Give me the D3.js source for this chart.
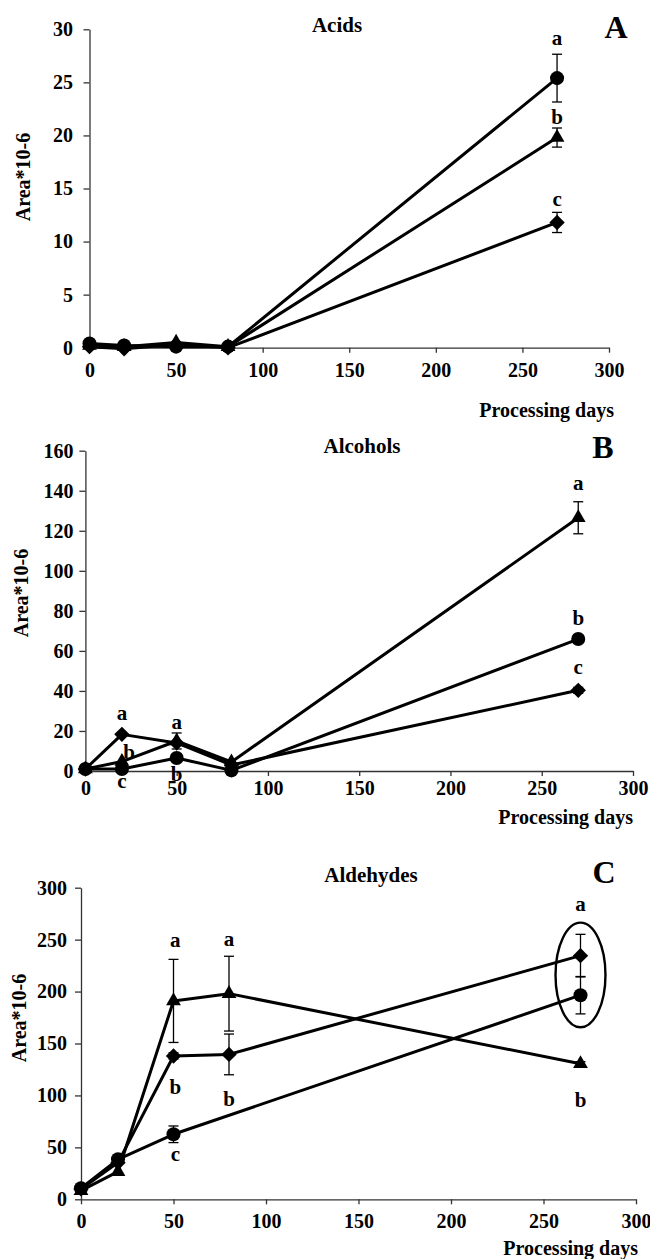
<!DOCTYPE html>
<html lang="en">
<head>
<meta charset="utf-8">
<title>Acids, alcohols and aldehydes over processing days</title>
<script src="https://cdn.jsdelivr.net/npm/d3@7"></script>
<style>
  body { margin: 0; background: #fff; }
  svg { font-family: "Liberation Serif", "Times New Roman", serif; font-weight: bold; }
</style>
</head>
<body>
<script>
// sampling days and axis ticks
var days = [0, 20, 50, 80, 270];
var xTicks = [0, 50, 100, 150, 200, 250, 300];

// A - acids
var acidsCircle = [0.4, 0.2, 0.1, 0.1, 25.4];
var acidsCircleErr = [0, 0, 0, 0, 2.25];
var acidsTriangle = [0.2, 0.1, 0.5, 0.1, 19.8];
var acidsTriangleErr = [0, 0, 0, 0, 0.9];
var acidsDiamond = [0.1, -0.1, 0.3, 0.0, 11.8];
var acidsDiamondErr = [0, 0, 0, 0, 0.95];
var acidsLetters = [[270, 29.2, "a"], [270, 21.8, "b"], [270, 14.0, "c"]];

// B - alcohols
var alcCircle = [1, 1, 6.5, 0.3, 65.9];
var alcCircleErr = [0, 0, 0, 0, 1.5];
var alcTriangle = [1, 4.7, 15, 4.5, 126.5];
var alcTriangleErr = [0, 0, 4, 0, 8];
var alcDiamond = [1, 18.3, 14, 3, 40.3];
var alcDiamondErr = [0, 0, 0, 0, 1.5];
var alcLetters = [[20, 29.1, "a"], [24, 9.7, "b"], [20, -5, "c"], [50, 24.6, "a"], [50, -1.5, "b"],
                  [270, 144, "a"], [270, 76.8, "b"], [270, 52, "c"]];

// C - aldehydes (no circle point on day 80)
var aldCircle = [10.6, 38.5, 62.6, null, 196.5];
var aldCircleErr = [0, 0, 8, 0, 18];
var aldTriangle = [8.3, 26.6, 191, 198, 130.5];
var aldTriangleErr = [0, 0, 40, 36, 2];
var aldDiamond = [10, 35.3, 138, 139.5, 234.6];
var aldDiamondErr = [0, 0, 3, 19.6, 20.5];
var aldLetters = [[51, 250, "a"], [80, 251, "a"], [51, 108.5, "b"], [80, 97, "b"], [51, 44, "c"],
                  [270, 285, "a"], [270, 96, "b"]];
var aldEllipse = [270, 216, 13.5, 50.4];

var W = 650, H = 1259;
var svg = d3.select("body").append("svg").attr("width", W).attr("height", H);

var shapes = {
    circle: d3.symbol().type(d3.symbolCircle).size(155),
    triangle: d3.symbol().type(d3.symbolTriangle).size(95),
    diamond: d3.symbol().type(d3.symbolSquare).size(118)
};

function series(values, errs, shape) {
    return days.map(function(d, i) {
        return {day: d, v: values[i], e: errs[i]};
    }).filter(function(p) { return p.v !== null; })
      .map(function(p) { p.shape = shape; return p; });
}

var panels = [
    {
        letter: "A", title: "Acids", yMax: 30, yStep: 5,
        x0: 89.5, x1: 609, y0: 347.7, y1: 29.3, xPad: 9, yPad: 10.5,
        titleX: 337, titleY: 32, letterX: 616, letterY: 38,
        ylabX: 23, ylabY: 177, xlabX: 614, xlabY: 417,
        data: [series(acidsCircle, acidsCircleErr, "circle"),
               series(acidsTriangle, acidsTriangleErr, "triangle"),
               series(acidsDiamond, acidsDiamondErr, "diamond")],
        letters: acidsLetters
    },
    {
        letter: "B", title: "Alcohols", yMax: 160, yStep: 20,
        x0: 85.4, x1: 633, y0: 771, y1: 450.7, xPad: 4, yPad: 6,
        titleX: 362, titleY: 453, letterX: 603, letterY: 458,
        ylabX: 21, ylabY: 593, xlabX: 633, xlabY: 824,
        data: [series(alcCircle, alcCircleErr, "circle"),
               series(alcTriangle, alcTriangleErr, "triangle"),
               series(alcDiamond, alcDiamondErr, "diamond")],
        letters: alcLetters
    },
    {
        letter: "C", title: "Aldehydes", yMax: 300, yStep: 50,
        x0: 81, x1: 636, y0: 1199.3, y1: 887.7, xPad: 9, yPad: 8,
        titleX: 371, titleY: 882, letterX: 604, letterY: 883,
        ylabX: 19, ylabY: 1018, xlabX: 638, xlabY: 1255,
        data: [series(aldCircle, aldCircleErr, "circle"),
               series(aldTriangle, aldTriangleErr, "triangle"),
               series(aldDiamond, aldDiamondErr, "diamond")],
        letters: aldLetters,
        ellipse: aldEllipse
    }
];

function styleAxis(g) {
    g.select(".domain").attr("stroke", "#333").attr("stroke-width", 1.3);
    g.selectAll(".tick line").attr("stroke", "#333").attr("stroke-width", 1.3);
    g.selectAll(".tick text")
        .attr("font-size", 20)
        .attr("font-family", "Liberation Serif, Times New Roman, serif")
        .attr("font-weight", "bold")
        .attr("fill", "#000");
}

panels.forEach(function(p) {
    var x = d3.scaleLinear().domain([0, 300]).range([p.x0, p.x1]);
    var y = d3.scaleLinear().domain([0, p.yMax]).range([p.y0, p.y1]);
    var g = svg.append("g");

    g.append("g")
        .attr("transform", "translate(0," + p.y0 + ")")
        .call(d3.axisBottom(x).tickValues(xTicks).tickSize(5).tickSizeOuter(0).tickPadding(p.xPad + 1))
        .call(styleAxis);

    g.append("g")
        .attr("transform", "translate(" + p.x0 + ",0)")
        .call(d3.axisLeft(y).tickValues(d3.range(0, p.yMax + 1, p.yStep)).tickSize(6).tickSizeOuter(0).tickPadding(p.yPad))
        .call(styleAxis);

    // titles and labels
    g.append("text").attr("x", p.titleX).attr("y", p.titleY)
        .attr("text-anchor", "middle").attr("font-size", 21).text(p.title);
    g.append("text").attr("x", p.letterX).attr("y", p.letterY)
        .attr("text-anchor", "middle").attr("font-size", 32).text(p.letter);
    g.append("text")
        .attr("transform", "translate(" + p.ylabX + "," + p.ylabY + ") rotate(-90)")
        .attr("text-anchor", "middle").attr("dy", "0.35em").attr("font-size", 20)
        .text("Area*10-6");
    g.append("text").attr("x", p.xlabX).attr("y", p.xlabY)
        .attr("text-anchor", "end").attr("font-size", 20).text("Processing days");

    var line = d3.line().x(function(d) { return x(d.day); }).y(function(d) { return y(d.v); });

    p.data.forEach(function(s) {
        g.append("path").datum(s).attr("d", line)
            .attr("fill", "none").attr("stroke", "#000").attr("stroke-width", 3)
            .attr("stroke-linejoin", "round");
    });

    p.data.forEach(function(s) {
        var eb = g.selectAll(null).data(s.filter(function(d) { return d.e > 0; })).enter().append("g")
            .attr("stroke", "#000").attr("stroke-width", 1.3);
        eb.append("line")
            .attr("x1", function(d) { return x(d.day); }).attr("x2", function(d) { return x(d.day); })
            .attr("y1", function(d) { return y(d.v + d.e); }).attr("y2", function(d) { return y(d.v - d.e); });
        eb.append("line")
            .attr("x1", function(d) { return x(d.day) - 5; }).attr("x2", function(d) { return x(d.day) + 5; })
            .attr("y1", function(d) { return y(d.v + d.e); }).attr("y2", function(d) { return y(d.v + d.e); });
        eb.append("line")
            .attr("x1", function(d) { return x(d.day) - 5; }).attr("x2", function(d) { return x(d.day) + 5; })
            .attr("y1", function(d) { return y(d.v - d.e); }).attr("y2", function(d) { return y(d.v - d.e); });
    });

    p.data.forEach(function(s) {
        g.selectAll(null).data(s).enter().append("path")
            .attr("d", function(d) { return shapes[d.shape](); })
            .attr("transform", function(d) {
                return "translate(" + x(d.day) + "," + y(d.v) + ")" + (d.shape === "diamond" ? " rotate(45)" : "");
            })
            .attr("fill", "#000");
    });

    g.selectAll(null).data(p.letters).enter().append("text")
        .attr("x", function(d) { return x(d[0]); })
        .attr("y", function(d) { return y(d[1]); })
        .attr("dy", "0.35em")
        .attr("text-anchor", "middle").attr("font-size", 21)
        .text(function(d) { return d[2]; });

    if (p.ellipse) {
        var e = p.ellipse;
        g.append("ellipse")
            .attr("cx", x(e[0])).attr("cy", y(e[1]))
            .attr("rx", x(e[2]) - x(0)).attr("ry", y(0) - y(e[3]))
            .attr("fill", "none").attr("stroke", "#000").attr("stroke-width", 2.4);
    }
});
</script>
</body>
</html>
